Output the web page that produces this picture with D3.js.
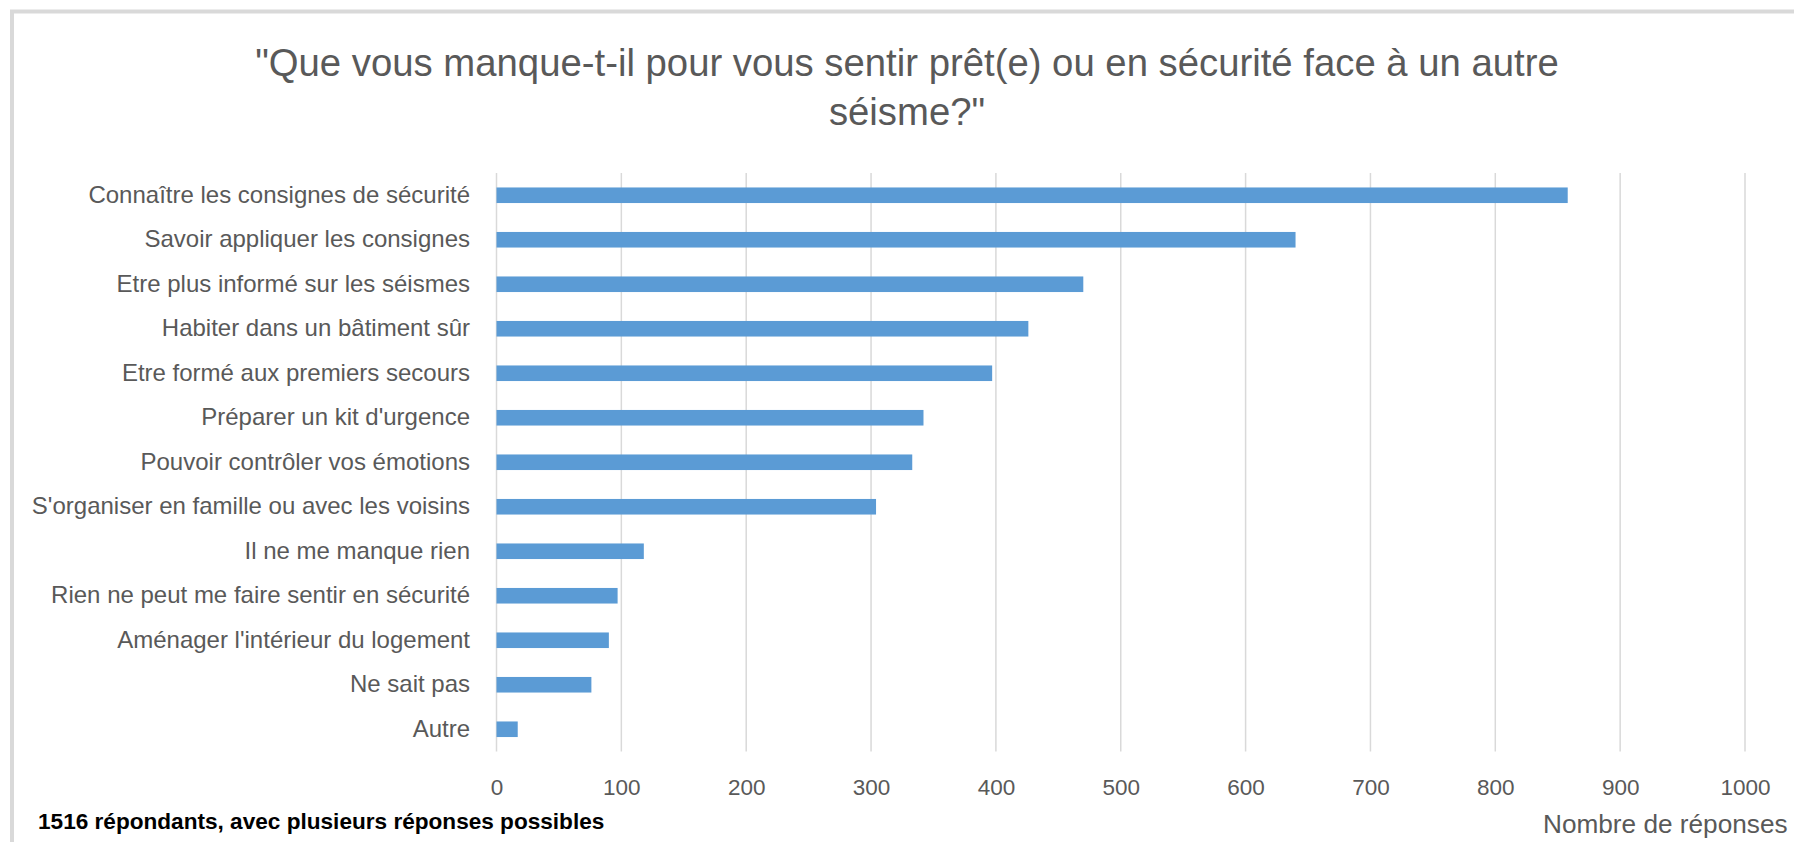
<!DOCTYPE html>
<html><head><meta charset="utf-8">
<script src="https://cdn.jsdelivr.net/npm/d3@7"></script>
<style>
html,body{margin:0;padding:0;background:#fff;}
svg{display:block;}
</style></head>
<body>
<svg id="chart" width="1794" height="842"></svg>
<script>
const categories = [
  "Connaître les consignes de sécurité",
  "Savoir appliquer les consignes",
  "Etre plus informé sur les séismes",
  "Habiter dans un bâtiment sûr",
  "Etre formé aux premiers secours",
  "Préparer un kit d'urgence",
  "Pouvoir contrôler vos émotions",
  "S'organiser en famille ou avec les voisins",
  "Il ne me manque rien",
  "Rien ne peut me faire sentir en sécurité",
  "Aménager l'intérieur du logement",
  "Ne sait pas",
  "Autre"
];
const values = [858, 640, 470, 426, 397, 342, 333, 304, 118, 97, 90, 76, 17];
const xTicks = [0, 100, 200, 300, 400, 500, 600, 700, 800, 900, 1000];
const titleLines = ["\"Que vous manque-t-il pour vous sentir prêt(e) ou en sécurité face à un autre", "séisme?\""];
const axisTitle = "Nombre  de réponses";
const footnote = "1516 répondants,  avec plusieurs réponses possibles";

const svg = d3.select("#chart");
const font = "'Liberation Sans', Arial, sans-serif";
const textColor = "#595959";

// frame
svg.append("rect").attr("x", 12).attr("y", 11.5).attr("width", 1850).attr("height", 900)
  .attr("fill", "none").attr("stroke", "#d9d9d9").attr("stroke-width", 4);

const x = d3.scaleLinear().domain([0, 1000]).range([496.5, 1745]);
const y = d3.scaleBand().domain(categories).range([173, 751.5]).paddingInner(0.65).paddingOuter(0.325);

// gridlines
svg.append("g").selectAll("line").data(xTicks).join("line")
  .attr("x1", d => x(d)).attr("x2", d => x(d))
  .attr("y1", 173).attr("y2", 751.5)
  .attr("stroke", "#d9d9d9").attr("stroke-width", 1.5);

// bars
svg.append("g").selectAll("rect").data(categories).join("rect")
  .attr("x", x(0)).attr("y", d => y(d))
  .attr("width", (d, i) => x(values[i]) - x(0))
  .attr("height", y.bandwidth())
  .attr("fill", "#5b9bd5");

// x axis labels
const xAxis = d3.axisBottom(x).tickValues(xTicks).tickFormat(d3.format("d")).tickSize(0).tickPadding(0);
const gx = svg.append("g").attr("transform", "translate(0,795)").call(xAxis);
gx.select(".domain").remove();
gx.selectAll("text").attr("font-family", font).attr("font-size", 22.5).attr("fill", textColor).attr("dy", null).attr("y", 0);

// y axis labels
const yAxis = d3.axisLeft(y).tickSize(0).tickPadding(0);
const gy = svg.append("g").attr("transform", "translate(470,0)").call(yAxis);
gy.select(".domain").remove();
gy.selectAll("text").attr("font-family", font).attr("font-size", 24).attr("fill", textColor);

// title
svg.append("g").selectAll("text").data(titleLines).join("text")
  .attr("x", 907).attr("y", (d, i) => 76 + i * 49)
  .attr("text-anchor", "middle").attr("font-family", font).attr("font-size", 38.3)
  .attr("fill", textColor).text(d => d);

// axis title
svg.append("text").attr("x", 1543).attr("y", 833).attr("font-family", font)
  .attr("font-size", 26.2).attr("fill", textColor).text(axisTitle);

// footnote
svg.append("text").attr("x", 38).attr("y", 829).attr("font-family", font)
  .attr("font-size", 22.6).attr("font-weight", "bold").attr("fill", "#000").text(footnote);
</script>
</body></html>
